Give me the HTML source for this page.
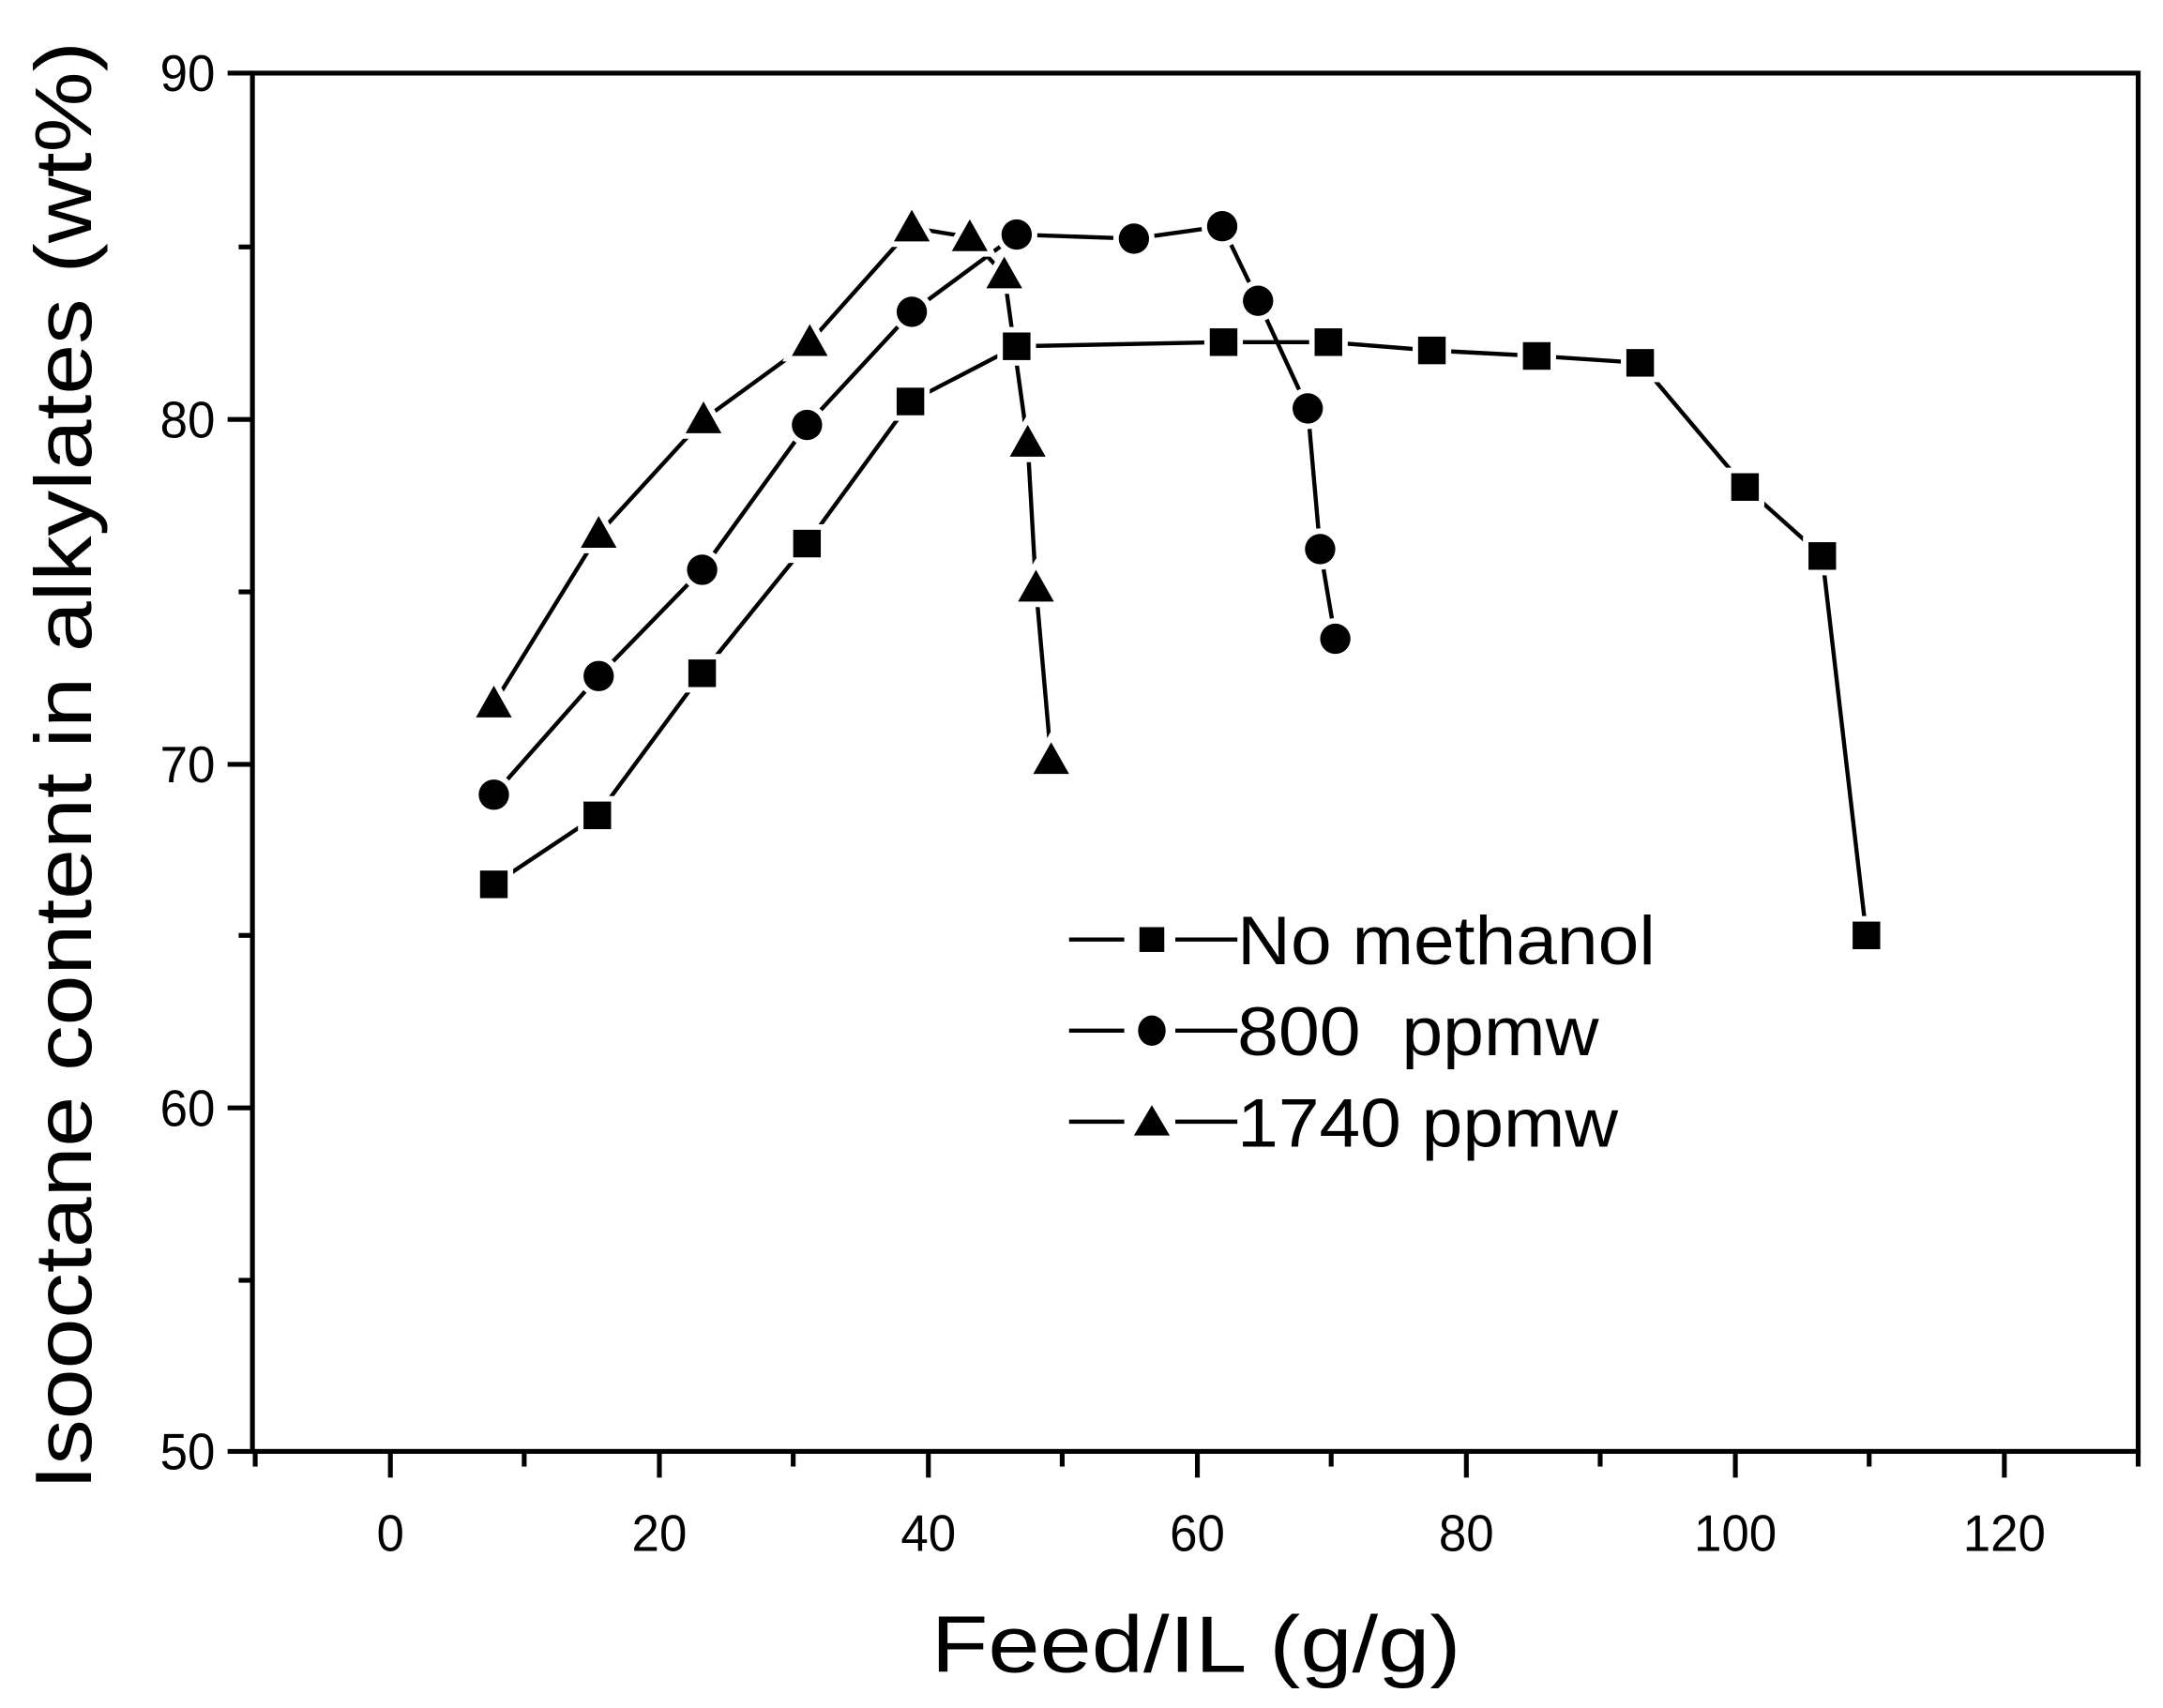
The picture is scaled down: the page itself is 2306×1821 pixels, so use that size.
<!DOCTYPE html>
<html><head><meta charset="utf-8"><style>html,body{margin:0;padding:0;background:#fff}svg{display:block}</style></head>
<body>
<svg width="2306" height="1821" viewBox="0 0 1568 1238" preserveAspectRatio="none" xmlns="http://www.w3.org/2000/svg" font-family="Liberation Sans, sans-serif">
<rect width="1568" height="1238" fill="#fff"/>
<rect x="183" y="53" width="1367" height="999" fill="none" stroke="#000" stroke-width="3.5"/>
<g stroke="#000" stroke-width="3.5">
<line x1="165" y1="53" x2="183" y2="53"/><line x1="165" y1="304" x2="183" y2="304"/><line x1="165" y1="554" x2="183" y2="554"/><line x1="165" y1="803" x2="183" y2="803"/><line x1="165" y1="1052" x2="183" y2="1052"/>
<line x1="173" y1="179" x2="183" y2="179"/><line x1="173" y1="429" x2="183" y2="429"/><line x1="173" y1="678" x2="183" y2="678"/><line x1="173" y1="928" x2="183" y2="928"/>
<line x1="283" y1="1052" x2="283" y2="1071"/><line x1="478" y1="1052" x2="478" y2="1071"/><line x1="673" y1="1052" x2="673" y2="1071"/><line x1="868" y1="1052" x2="868" y2="1071"/><line x1="1063" y1="1052" x2="1063" y2="1071"/><line x1="1258" y1="1052" x2="1258" y2="1071"/><line x1="1453" y1="1052" x2="1453" y2="1071"/>
<line x1="185" y1="1052" x2="185" y2="1063"/><line x1="380" y1="1052" x2="380" y2="1063"/><line x1="575" y1="1052" x2="575" y2="1063"/><line x1="770" y1="1052" x2="770" y2="1063"/><line x1="965" y1="1052" x2="965" y2="1063"/><line x1="1160" y1="1052" x2="1160" y2="1063"/><line x1="1355" y1="1052" x2="1355" y2="1063"/><line x1="1550" y1="1052" x2="1550" y2="1063"/>
</g>
<g font-size="37" text-anchor="end">
<text x="156" y="66" textLength="40" lengthAdjust="spacingAndGlyphs">90</text>
<text x="156" y="317" textLength="40" lengthAdjust="spacingAndGlyphs">80</text>
<text x="156" y="567" textLength="40" lengthAdjust="spacingAndGlyphs">70</text>
<text x="156" y="816" textLength="40" lengthAdjust="spacingAndGlyphs">60</text>
<text x="156" y="1065" textLength="40" lengthAdjust="spacingAndGlyphs">50</text>
</g>
<g font-size="37" text-anchor="middle">
<text x="283" y="1124" textLength="20" lengthAdjust="spacingAndGlyphs">0</text>
<text x="478" y="1124" textLength="40" lengthAdjust="spacingAndGlyphs">20</text>
<text x="673" y="1124" textLength="40" lengthAdjust="spacingAndGlyphs">40</text>
<text x="868" y="1124" textLength="40" lengthAdjust="spacingAndGlyphs">60</text>
<text x="1063" y="1124" textLength="40" lengthAdjust="spacingAndGlyphs">80</text>
<text x="1258" y="1124" textLength="60" lengthAdjust="spacingAndGlyphs">100</text>
<text x="1453" y="1124" textLength="60" lengthAdjust="spacingAndGlyphs">120</text>
</g>
<text x="867" y="1212" font-size="58" text-anchor="middle" textLength="384" lengthAdjust="spacingAndGlyphs">Feed/IL (g/g)</text>
<text transform="translate(66,555) rotate(-90)" font-size="58" text-anchor="middle" textLength="1050" lengthAdjust="spacingAndGlyphs">Isooctane content in alkylates (wt%)</text>
<g fill="none" stroke="#000" stroke-width="3">
<polyline points="358,641 433,591 509,488 585,394 660,291 737,251 887,248 963,248 1038,254 1114,258 1189,263 1265,353 1321,403 1353,678"/>
<polyline points="358,576 434,490 509,413 585,308 661,226 737,170 822,173 886,164 912,218 948,296 957,398 968,463"/>
<polyline points="358,510 434,387 510,304 587,248 661,165 703,172 728,199 745,321 751,426 762,551"/>
</g>
<g fill="#000" stroke="#fff" stroke-width="8" paint-order="stroke">
<rect x="348" y="631" width="20" height="20"/><rect x="423" y="581" width="20" height="20"/><rect x="499" y="478" width="20" height="20"/><rect x="575" y="384" width="20" height="20"/><rect x="650" y="281" width="20" height="20"/><rect x="727" y="241" width="20" height="20"/><rect x="877" y="238" width="20" height="20"/><rect x="953" y="238" width="20" height="20"/><rect x="1028" y="244" width="20" height="20"/><rect x="1104" y="248" width="20" height="20"/><rect x="1179" y="253" width="20" height="20"/><rect x="1255" y="343" width="20" height="20"/><rect x="1311" y="393" width="20" height="20"/><rect x="1343" y="668" width="20" height="20"/>
<circle cx="358" cy="576" r="11"/><circle cx="434" cy="490" r="11"/><circle cx="509" cy="413" r="11"/><circle cx="585" cy="308" r="11"/><circle cx="661" cy="226" r="11"/><circle cx="737" cy="170" r="11"/><circle cx="822" cy="173" r="11"/><circle cx="886" cy="164" r="11"/><circle cx="912" cy="218" r="11"/><circle cx="948" cy="296" r="11"/><circle cx="957" cy="398" r="11"/><circle cx="968" cy="463" r="11"/>
<path d="M358,497 l13,23 h-26z M434,374 l13,23 h-26z M510,291 l13,23 h-26z M587,235 l13,23 h-26z M661,152 l13,23 h-26z M703,159 l13,23 h-26z M728,186 l13,23 h-26z M745,308 l13,23 h-26z M751,413 l13,23 h-26z M762,538 l13,23 h-26z"/>
</g>
<g stroke="#000" stroke-width="3">
<line x1="775" y1="681" x2="815" y2="681"/><line x1="852" y1="681" x2="897" y2="681"/>
<line x1="775" y1="747" x2="815" y2="747"/><line x1="852" y1="747" x2="897" y2="747"/>
<line x1="775" y1="813" x2="815" y2="813"/><line x1="852" y1="813" x2="897" y2="813"/>
</g>
<rect x="826" y="672" width="18" height="18" fill="#000"/>
<ellipse cx="835" cy="747" rx="10" ry="11" fill="#000"/>
<path d="M835,801 l13,22 h-26z" fill="#000"/>
<g font-size="50">
<text x="897" y="699" textLength="303" lengthAdjust="spacingAndGlyphs">No methanol</text>
<text x="897" y="765" textLength="262" lengthAdjust="spacingAndGlyphs">800&#160;&#160;ppmw</text>
<text x="897" y="831" textLength="276" lengthAdjust="spacingAndGlyphs">1740 ppmw</text>
</g>
</svg>
</body></html>
